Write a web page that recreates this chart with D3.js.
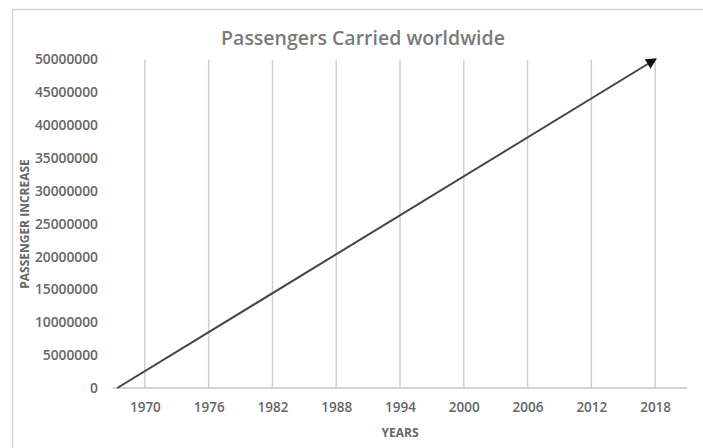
<!DOCTYPE html>
<html><head><meta charset="utf-8">
<script src="https://cdn.jsdelivr.net/npm/d3@7"></script>
<style>
html,body{margin:0;padding:0;background:#fff;}
text{font-family:"Open Sans",sans-serif;}
</style></head>
<body>
<svg id="chart" width="703" height="448"></svg>
<script>
const title = "Passengers Carried worldwide";
const xTitle = "YEARS";
const yTitle = "PASSENGER INCREASE";
const yearTicks = [1970, 1976, 1982, 1988, 1994, 2000, 2006, 2012, 2018];
const valueTicks = [0, 5000000, 10000000, 15000000, 20000000, 25000000, 30000000, 35000000, 40000000, 45000000, 50000000];
const lineYears = [1967.4, 2018];
const linePassengers = [0, 50000000];

const svg = d3.select("#chart");
const x = d3.scaleLinear().domain([1967, 2021]).range([113, 687]);
const y = d3.scaleLinear().domain([0, 50000000]).range([388, 59.5]);

// frame
svg.append("path").attr("d","M12.5,448 L12.5,9.5 L703,9.5")
  .attr("fill","none").attr("stroke","#d4d4d4").attr("stroke-width",1.5);

// title
svg.append("text").attr("x",363).attr("y",45).attr("text-anchor","middle")
  .attr("font-size",19.5).attr("fill","#7a7a7a").attr("font-weight",600).text(title);

// vertical gridlines
svg.append("g").selectAll("line").data(yearTicks).join("line")
  .attr("x1",d=>x(d)).attr("x2",d=>x(d)).attr("y1",y(50000000)).attr("y2",y(0))
  .attr("stroke","#cfcfcf").attr("stroke-width",1.5);

// x axis
const xAxis = d3.axisBottom(x).tickValues(yearTicks).tickFormat(d3.format("d")).tickSize(0).tickPadding(14);
const gx = svg.append("g").attr("transform",`translate(0,${y(0)})`).call(xAxis);
gx.select(".domain").remove();
gx.append("line").attr("x1",113).attr("x2",687).attr("stroke","#c4c4c4").attr("stroke-width",1.5);
gx.selectAll("text").attr("font-size",13.5).attr("font-weight",600).attr("fill","#666").attr("font-family","Open Sans");

// y axis
const yAxis = d3.axisLeft(y).tickValues(valueTicks).tickFormat(d3.format("d")).tickSize(0).tickPadding(0);
const gy = svg.append("g").attr("transform","translate(98,0)").call(yAxis);
gy.select(".domain").remove();
gy.selectAll("text").attr("font-size",13.8).attr("font-weight",600).attr("fill","#666").attr("font-family","Open Sans");

// axis titles
svg.append("text").attr("x",400).attr("y",437).attr("text-anchor","middle")
  .attr("font-size",12).attr("font-weight",700).attr("fill","#666").text(xTitle);
svg.append("text").attr("transform","translate(29,224) rotate(-90)").attr("text-anchor","middle")
  .attr("font-size",12).attr("font-weight",700).attr("fill","#666").text(yTitle);

// arrow marker
svg.append("defs").append("marker").attr("id","arrow")
  .attr("viewBox","0 0 10 10").attr("refX",8).attr("refY",5)
  .attr("markerWidth",5.5).attr("markerHeight",5.5).attr("orient","auto")
  .append("path").attr("d","M0,0 L10,5 L0,10 Z").attr("fill","#111");

const pts = lineYears.map((d,i)=>[d, linePassengers[i]]);
svg.append("path").datum(pts)
  .attr("d", d3.line().x(d=>x(d[0])).y(d=>y(d[1])))
  .attr("fill","none").attr("stroke","#444").attr("stroke-width",2)
  .attr("marker-end","url(#arrow)");
</script>
</body></html>
